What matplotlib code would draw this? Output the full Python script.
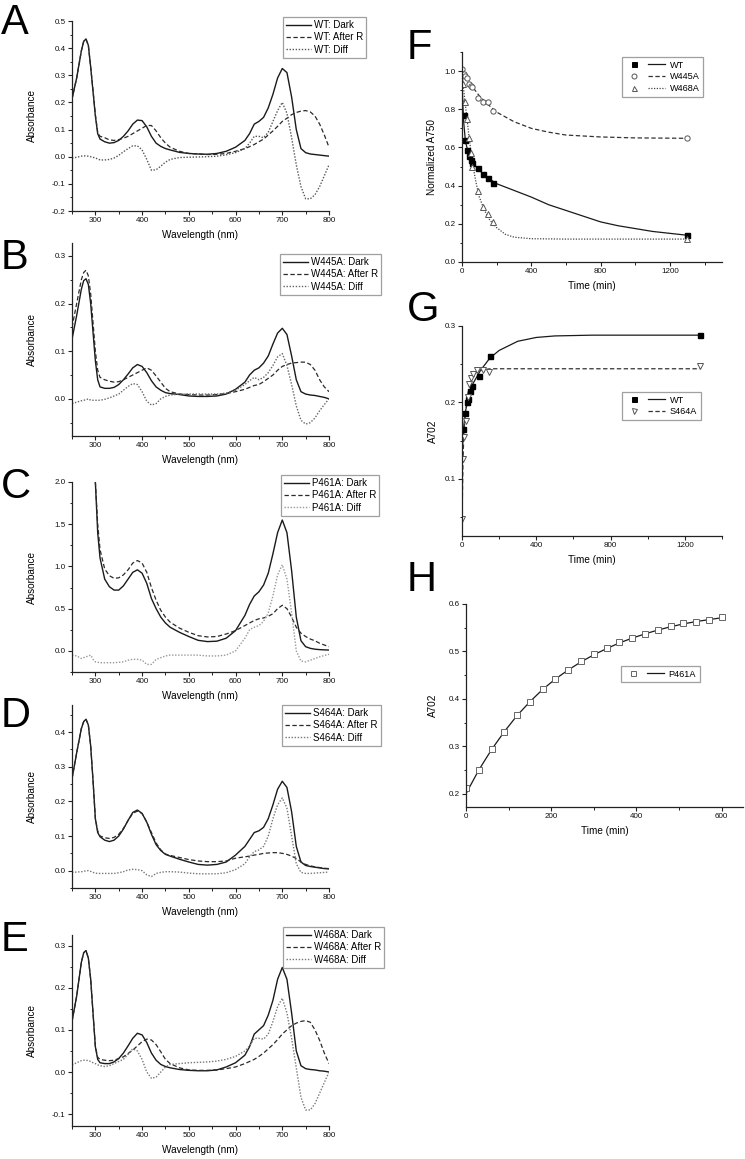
import numpy as np
import matplotlib
matplotlib.use("Agg")
import matplotlib.pyplot as plt
from matplotlib.ticker import MultipleLocator, FormatStrFormatter
from matplotlib.lines import Line2D
from matplotlib.legend_handler import HandlerTuple

plt.rcParams['font.family'] = ['Liberation Sans', 'DejaVu Sans']
plt.rcParams['axes.unicode_minus'] = False

nan = np.nan
# ---------------- spectra data (wavelength grid shared by all spectra) ----------------
wavelength = [250, 260, 270, 275, 280, 285, 290, 295, 300, 305, 310, 320, 330, 340, 350, 360, 370, 380, 390, 400,
              410, 420, 430, 440, 450, 460, 480, 500, 520, 540, 560, 580, 600, 620, 630, 640,
              650, 660, 670, 680, 690, 700, 710, 720, 730, 740, 750, 760, 770, 780, 790, 800]

wt_dark = [0.213, 0.29, 0.39, 0.425, 0.434, 0.41, 0.33, 0.24, 0.15, 0.085, 0.065,
           0.055, 0.05, 0.052, 0.06, 0.075, 0.095, 0.12, 0.135, 0.133, 0.11, 0.075, 0.05, 0.038, 0.03, 0.025, 0.016,
           0.012, 0.01, 0.009, 0.012, 0.02, 0.035, 0.06, 0.085, 0.12, 0.13, 0.145, 0.18, 0.23, 0.29, 0.325, 0.31,
           0.22, 0.10, 0.03, 0.015, 0.01, 0.008, 0.006, 0.004, 0.002]
wt_after = [0.213, 0.29, 0.39, 0.425, 0.432, 0.41, 0.33, 0.245, 0.155, 0.09, 0.075,
            0.07, 0.062, 0.06, 0.063, 0.068, 0.075, 0.085, 0.095, 0.105, 0.115, 0.115, 0.095, 0.07, 0.05, 0.035, 0.02,
            0.012, 0.01, 0.008, 0.009, 0.012, 0.02, 0.03, 0.037, 0.045, 0.055, 0.065, 0.08, 0.095, 0.112, 0.13, 0.142,
            0.155, 0.163, 0.168, 0.17, 0.165, 0.15, 0.12, 0.08, 0.035]
wt_diff = [-0.005, -0.002, 0.002, 0.003, 0.003, 0.002, 0.0, -0.002, -0.005, -0.008, -0.012,
           -0.012, -0.01, -0.005, 0.005, 0.018, 0.03, 0.04, 0.04, 0.025, -0.01, -0.05, -0.048, -0.035, -0.02, -0.01,
           -0.003, -0.002, -0.001, 0.0, 0.002, 0.007, 0.015, 0.03, 0.05, 0.075, 0.075, 0.07, 0.09, 0.13, 0.17, 0.2,
           0.16, 0.07, -0.03, -0.11, -0.155, -0.155, -0.14, -0.11, -0.07, -0.03]

w445_dark = [0.125, 0.175, 0.23, 0.248, 0.252, 0.24, 0.2, 0.14, 0.08, 0.04, 0.025,
             0.022, 0.022, 0.024, 0.03, 0.04, 0.052, 0.065, 0.072, 0.068, 0.055, 0.038, 0.025, 0.018, 0.013, 0.011,
             0.009, 0.006, 0.005, 0.005, 0.006, 0.01, 0.02, 0.035, 0.05, 0.06, 0.065, 0.075, 0.09, 0.115, 0.138, 0.148,
             0.135, 0.09, 0.04, 0.015, 0.01, 0.008, 0.007, 0.005, 0.003, 0.0]
w445_after = [0.15, 0.2, 0.25, 0.265, 0.27, 0.258, 0.22, 0.16, 0.1, 0.06, 0.045,
              0.04, 0.037, 0.035, 0.036, 0.04, 0.045, 0.05, 0.055, 0.06, 0.065, 0.06, 0.048, 0.035, 0.022, 0.015,
              0.01, 0.009, 0.008, 0.008, 0.009, 0.011, 0.015, 0.02, 0.024, 0.028, 0.03, 0.036, 0.043, 0.05, 0.06, 0.068,
              0.072, 0.075, 0.076, 0.077, 0.077, 0.072, 0.06, 0.04, 0.025, 0.015]
w445_diff = [-0.01, -0.007, -0.004, -0.003, -0.002, 0.0, -0.003, -0.003, -0.003, -0.003, -0.003,
             -0.001, 0.002, 0.006, 0.01, 0.018, 0.026, 0.032, 0.03, 0.015, -0.005, -0.013, -0.01, 0.0, 0.005, 0.008,
             0.01, 0.01, 0.01, 0.01, 0.01, 0.012, 0.018, 0.03, 0.038, 0.045, 0.04, 0.045, 0.055, 0.07, 0.088, 0.095,
             0.07, 0.03, -0.015, -0.045, -0.053, -0.05, -0.04, -0.025, -0.012, 0.0]

p461_dark = [nan, nan, nan, nan, nan, nan, nan, nan, 2.0, 1.4, 1.1,
             0.85, 0.76, 0.72, 0.72, 0.77, 0.85, 0.93, 0.96, 0.92, 0.8, 0.62, 0.5, 0.4, 0.33, 0.28,
             0.22, 0.17, 0.125, 0.11, 0.115, 0.15, 0.24, 0.42, 0.55, 0.65, 0.7, 0.78, 0.92, 1.15, 1.4, 1.55,
             1.4, 0.95, 0.4, 0.12, 0.05, 0.03, 0.02, 0.015, 0.012, 0.01]
p461_after = [nan, nan, nan, nan, nan, nan, nan, nan, 2.0, 1.5, 1.2,
              0.97, 0.89, 0.86, 0.865, 0.9, 0.96, 1.04, 1.07, 1.04, 0.93, 0.75, 0.6, 0.48, 0.4, 0.34,
              0.27, 0.22, 0.18, 0.165, 0.17, 0.2, 0.24, 0.3, 0.33, 0.36, 0.38, 0.39, 0.41, 0.44, 0.5, 0.54,
              0.5, 0.4, 0.28, 0.21, 0.17, 0.14, 0.12, 0.09, 0.07, 0.05]
p461_diff = [-0.05, -0.06, -0.09, -0.08, -0.07, -0.06, -0.05, -0.1, -0.13, -0.135, -0.14,
             -0.14, -0.14, -0.14, -0.135, -0.13, -0.11, -0.1, -0.1, -0.11, -0.16, -0.16, -0.1, -0.08, -0.06, -0.05,
             -0.05, -0.05, -0.05, -0.06, -0.06, -0.05, 0.0, 0.15, 0.25, 0.28, 0.3, 0.35, 0.45, 0.65, 0.9, 1.02,
             0.85, 0.45, 0.0, -0.12, -0.13, -0.11, -0.09, -0.07, -0.055, -0.04]

s464_dark = [0.265, 0.34, 0.41, 0.43, 0.437, 0.42, 0.36, 0.26, 0.15, 0.11, 0.098,
             0.088, 0.084, 0.088, 0.1, 0.12, 0.145, 0.168, 0.175, 0.165, 0.14, 0.105, 0.075, 0.058, 0.047, 0.042,
             0.033, 0.025, 0.018, 0.016, 0.018, 0.025, 0.045, 0.07, 0.09, 0.11, 0.115, 0.125, 0.15, 0.19, 0.235, 0.258,
             0.24, 0.17, 0.07, 0.025, 0.015, 0.012, 0.01, 0.008, 0.006, 0.005]
s464_after = [0.265, 0.34, 0.41, 0.43, 0.437, 0.42, 0.36, 0.26, 0.15, 0.115, 0.1,
              0.095, 0.093, 0.096, 0.105, 0.122, 0.145, 0.165, 0.172, 0.165, 0.14, 0.11, 0.08, 0.06, 0.048, 0.044,
              0.038, 0.032, 0.028, 0.026, 0.026, 0.028, 0.036, 0.04, 0.042, 0.045, 0.047, 0.05, 0.051, 0.052, 0.052, 0.05,
              0.047, 0.042, 0.035, 0.025, 0.018, 0.014, 0.011, 0.009, 0.007, 0.006]
s464_diff = [-0.005, -0.004, -0.003, -0.002, 0.0, 0.0, -0.002, -0.005, -0.007, -0.008, -0.008,
             -0.008, -0.008, -0.008, -0.006, -0.003, 0.002, 0.004, 0.003, 0.0, -0.012, -0.017, -0.008, -0.005, -0.003,
             -0.003, -0.004, -0.007, -0.009, -0.009, -0.009, -0.006, 0.003, 0.02, 0.04, 0.055, 0.06, 0.07, 0.1, 0.15,
             0.19, 0.21, 0.18, 0.1, 0.02, -0.005, -0.008, -0.008, -0.007, -0.006, -0.005, -0.004]

w468_dark = [0.12, 0.18, 0.26, 0.283, 0.288, 0.27, 0.22, 0.14, 0.06, 0.03, 0.022,
             0.02, 0.02, 0.024, 0.032, 0.045, 0.062, 0.08, 0.092, 0.088, 0.07, 0.045, 0.028, 0.018, 0.013, 0.01,
             0.006, 0.004, 0.003, 0.003, 0.005, 0.012, 0.022, 0.04, 0.06, 0.09, 0.1, 0.11, 0.135, 0.17, 0.22, 0.248,
             0.22, 0.14, 0.05, 0.015, 0.008, 0.006, 0.005, 0.003, 0.002, 0.0]
w468_after = [0.12, 0.18, 0.26, 0.283, 0.288, 0.27, 0.22, 0.14, 0.06, 0.035, 0.03,
              0.028, 0.027, 0.028, 0.032, 0.036, 0.044, 0.052, 0.062, 0.072, 0.078, 0.076, 0.065, 0.048, 0.03, 0.02,
              0.01, 0.005, 0.004, 0.004, 0.005, 0.008, 0.012, 0.02, 0.025, 0.03, 0.037, 0.045, 0.055, 0.065, 0.077, 0.09,
              0.1, 0.11, 0.116, 0.12, 0.122, 0.118, 0.1, 0.075, 0.045, 0.02]
w468_diff = [0.017, 0.022, 0.027, 0.028, 0.028, 0.027, 0.025, 0.022, 0.02, 0.017, 0.015,
             0.013, 0.015, 0.02, 0.025, 0.03, 0.042, 0.055, 0.05, 0.03, 0.0, -0.015, -0.012, 0.0, 0.012, 0.018,
             0.02, 0.022, 0.023, 0.024, 0.026, 0.03, 0.037, 0.05, 0.062, 0.08, 0.08, 0.078, 0.09, 0.12, 0.155, 0.175,
             0.14, 0.08, 0.01, -0.06, -0.09, -0.09, -0.075, -0.05, -0.025, 0.0]

# ---------------- kinetics data ----------------
f_wt_t = [10, 20, 30, 40, 50, 60, 90, 120, 150, 180, 1300]
f_wt_y = [0.77, 0.64, 0.586, 0.553, 0.535, 0.521, 0.49, 0.46, 0.44, 0.416, 0.142]
f_w445_t = [0, 10, 20, 30, 40, 50, 60, 90, 120, 150, 180, 1300]
f_w445_y = [1.01, 0.985, 0.975, 0.962, 0.93, 0.92, 0.918, 0.86, 0.84, 0.838, 0.79, 0.647]
f_w468_t = [5, 10, 20, 30, 40, 50, 60, 90, 120, 150, 180, 1300]
f_w468_y = [0.93, 0.84, 0.84, 0.75, 0.65, 0.57, 0.50, 0.37, 0.29, 0.25, 0.207, 0.123]
f_wt_fit_t = [0, 5, 10, 20, 40, 60, 100, 150, 200, 300, 400, 500, 600, 700, 800, 900, 1000, 1100, 1200, 1300]
f_wt_fit_y = [0.95, 0.82, 0.73, 0.63, 0.56, 0.52, 0.48, 0.44, 0.41, 0.375, 0.34, 0.30, 0.27, 0.24, 0.21, 0.19, 0.175, 0.16, 0.15, 0.14]
f_w445_fit_t = [0, 50, 100, 150, 200, 300, 400, 500, 600, 800, 1000, 1300]
f_w445_fit_y = [1.0, 0.93, 0.87, 0.825, 0.785, 0.735, 0.70, 0.68, 0.665, 0.655, 0.65, 0.648]
f_w468_fit_t = [0, 10, 20, 40, 60, 80, 100, 130, 160, 200, 250, 300, 400, 600, 1300]
f_w468_fit_y = [1.0, 0.9, 0.82, 0.66, 0.52, 0.42, 0.34, 0.27, 0.22, 0.18, 0.145, 0.13, 0.122, 0.12, 0.12]

g_wt_t = [5, 15, 25, 35, 45, 55, 90, 150, 1280]
g_wt_y = [0.165, 0.186, 0.2, 0.204, 0.215, 0.221, 0.234, 0.261, 0.288]
g_s464_t = [0, 5, 10, 20, 30, 40, 50, 60, 80, 115, 145, 1280]
g_s464_y = [0.047, 0.126, 0.155, 0.176, 0.207, 0.224, 0.232, 0.237, 0.242, 0.243, 0.24, 0.248]
g_wt_fit_t = [0, 10, 20, 40, 60, 100, 150, 200, 300, 400, 500, 700, 1280]
g_wt_fit_y = [0.13, 0.17, 0.19, 0.21, 0.225, 0.242, 0.258, 0.268, 0.28, 0.285, 0.287, 0.288, 0.288]
g_s464_fit_t = [0, 5, 10, 20, 30, 50, 70, 100, 150, 1280]
g_s464_fit_y = [0.04, 0.12, 0.16, 0.19, 0.21, 0.23, 0.238, 0.242, 0.244, 0.244]

h_t = [0, 30, 60, 90, 120, 150, 180, 210, 240, 270, 300, 330, 360, 390, 420, 450, 480, 510, 540, 570, 600]
h_y = [0.213, 0.25, 0.294, 0.331, 0.365, 0.394, 0.42, 0.442, 0.461, 0.479, 0.494, 0.507, 0.519, 0.529,
       0.537, 0.545, 0.553, 0.559, 0.563, 0.567, 0.572]
h_fit_y = [0.200, 0.250, 0.293, 0.331, 0.365, 0.394, 0.420, 0.442, 0.461, 0.478, 0.493, 0.506, 0.518, 0.528,
           0.537, 0.545, 0.552, 0.558, 0.563, 0.567, 0.571]

for _nm, _arr in [('wt_dark', wt_dark), ('wt_after', wt_after), ('wt_diff', wt_diff),
                  ('w445_dark', w445_dark), ('w445_after', w445_after), ('w445_diff', w445_diff),
                  ('p461_dark', p461_dark), ('p461_after', p461_after), ('p461_diff', p461_diff),
                  ('s464_dark', s464_dark), ('s464_after', s464_after), ('s464_diff', s464_diff),
                  ('w468_dark', w468_dark), ('w468_after', w468_after), ('w468_diff', w468_diff)]:
    if len(_arr) != len(wavelength):
        raise ValueError(f'{_nm}: {len(_arr)} vs {len(wavelength)}')

W, H = 745, 1159
fig = plt.figure(figsize=(W / 100, H / 100), dpi=100)
fig.patch.set_facecolor('white')

AX_COLOR = '#222222'
TICK_FS = 5.8
LABEL_FS = 7.2
LEG_FS = 7.0


def px_axes(x0, y0, x1, y1):
    return fig.add_axes([x0 / W, 1 - y1 / H, (x1 - x0) / W, (y1 - y0) / H])


def style_axes(ax):
    for s in ['top', 'right']:
        ax.spines[s].set_visible(False)
    for s in ['left', 'bottom']:
        ax.spines[s].set_color(AX_COLOR)
        ax.spines[s].set_linewidth(0.9)
    ax.tick_params(which='major', direction='out', length=3.0, width=0.8, color=AX_COLOR,
                   labelsize=TICK_FS, pad=1.5, labelcolor='#111111')
    ax.tick_params(which='minor', direction='out', length=1.8, width=0.7, color=AX_COLOR)
    ax.patch.set_alpha(0)


def letter(x, y, s):
    fig.text(x / W, 1 - y / H, s, fontsize=30, ha='left', va='top', color='black')


spectra = [
    ('A', 'WT', wt_dark, wt_after, wt_diff, (21, 211), (-0.2, 0.5), 0.1, 0.05, (283, 17), 3, '#555555'),
    ('B', 'W445A', w445_dark, w445_after, w445_diff, (243, 436), (-0.078, 0.327), 0.1, 0.05, (280, 254), 238, '#666666'),
    ('C', 'P461A', p461_dark, p461_after, p461_diff, (482, 672), (-0.25, 2.0), 0.5, 0.25, (281, 475), 467, '#999999'),
    ('D', 'S464A', s464_dark, s464_after, s464_diff, (705, 888), (-0.05, 0.478), 0.1, 0.05, (282, 705), 696, '#777777'),
    ('E', 'W468A', w468_dark, w468_after, w468_diff, (935, 1126), (-0.128, 0.325), 0.1, 0.05, (283, 927), 920, '#777777'),
]

for lab, name, dark, after, diff, (yt, yb), ylim, maj, mnr, (lx, ly), lety, diffc in spectra:
    ax = px_axes(72, yt, 329, yb)
    style_axes(ax)
    l1, = ax.plot(wavelength, dark, color='#1a1a1a', lw=1.0, ls='-')
    l2, = ax.plot(wavelength, after, color='#2a2a2a', lw=0.9, ls=(0, (3.5, 2)))
    l3, = ax.plot(wavelength, diff, color=diffc, lw=1.0, ls=(0, (1, 1.2)))
    ax.set_xlim(250, 800)
    ax.set_ylim(*ylim)
    ax.xaxis.set_major_locator(MultipleLocator(100))
    ax.xaxis.set_minor_locator(MultipleLocator(50))
    ax.yaxis.set_major_locator(MultipleLocator(maj))
    ax.yaxis.set_minor_locator(MultipleLocator(mnr))
    ax.yaxis.set_major_formatter(FormatStrFormatter('%.1f'))
    ax.set_xlabel('Wavelength (nm)', fontsize=LABEL_FS, labelpad=4)
    ax.set_ylabel('Absorbance', fontsize=LABEL_FS)
    ax.yaxis.set_label_coords(-35.5 / 257, 0.5)
    leg = ax.legend([l1, l2, l3], [f'{name}: Dark', f'{name}: After R', f'{name}: Diff'],
                    loc='upper left', bbox_to_anchor=(lx / W, 1 - ly / H), bbox_transform=fig.transFigure,
                    fontsize=LEG_FS, frameon=True, fancybox=False, handlelength=2.6, handletextpad=0.3,
                    labelspacing=0.25, borderpad=0.3, borderaxespad=0)
    leg.get_frame().set_edgecolor('#888888')
    leg.get_frame().set_linewidth(0.9)
    letter(1, lety, lab)


def kin_handle(marker, mfc, mec, ls, lc):
    m = Line2D([], [], ls='none', marker=marker, ms=3.6, mfc=mfc, mec=mec, mew=0.7)
    l = Line2D([], [], color=lc, lw=0.9, ls=ls)
    return (m, l)


def kin_legend(ax, handles, labels, x, y):
    lg = ax.legend(handles, labels, handler_map={tuple: HandlerTuple(ndivide=None, pad=0.6)},
                   loc='upper left', bbox_to_anchor=(x / W, 1 - y / H), bbox_transform=fig.transFigure,
                   fontsize=6.6, frameon=True, fancybox=False, handlelength=4.3, handletextpad=0.5,
                   labelspacing=0.3, borderpad=0.4, borderaxespad=0)
    lg.get_frame().set_edgecolor('#888888')
    lg.get_frame().set_linewidth(0.9)


# ---------------- F ----------------
axF = px_axes(462, 52, 722, 262)
style_axes(axF)
axF.plot(f_wt_fit_t, f_wt_fit_y, color='#1a1a1a', lw=0.9, ls='-')
axF.plot(f_w445_fit_t, f_w445_fit_y, color='#333333', lw=0.9, ls=(0, (3.5, 2)))
axF.plot(f_w468_fit_t, f_w468_fit_y, color='#444444', lw=0.9, ls=(0, (1, 1.2)))
axF.plot(f_wt_t, f_wt_y, ls='none', marker='s', ms=3.6, mfc='black', mec='black')
axF.plot(f_w445_t, f_w445_y, ls='none', marker='o', ms=3.8, mfc='white', mec='#555555', mew=0.7)
axF.plot(f_w468_t, f_w468_y, ls='none', marker='^', ms=3.8, mfc='white', mec='#555555', mew=0.7)
axF.set_xlim(0, 1500)
axF.set_ylim(0, 1.1)
axF.xaxis.set_major_locator(MultipleLocator(400))
axF.xaxis.set_minor_locator(MultipleLocator(200))
axF.yaxis.set_major_locator(MultipleLocator(0.2))
axF.yaxis.set_minor_locator(MultipleLocator(0.1))
axF.yaxis.set_major_formatter(FormatStrFormatter('%.1f'))
axF.set_xlabel('Time (min)', fontsize=LABEL_FS, labelpad=4)
axF.set_ylabel('Normalized A750', fontsize=LABEL_FS)
axF.yaxis.set_label_coords(-25 / 260, 0.5)
kin_legend(axF, [kin_handle('s', 'black', 'black', '-', '#1a1a1a'),
                 kin_handle('o', 'white', '#555555', (0, (3.5, 2)), '#333333'),
                 kin_handle('^', 'white', '#555555', (0, (1, 1.2)), '#444444')],
           ['WT', 'W445A', 'W468A'], 622, 57)
letter(407, 28, 'F')

# ---------------- G ----------------
axG = px_axes(462, 326, 722, 536)
style_axes(axG)
axG.plot(g_wt_fit_t, g_wt_fit_y, color='#1a1a1a', lw=0.9, ls='-')
axG.plot(g_s464_fit_t, g_s464_fit_y, color='#333333', lw=0.9, ls=(0, (3.5, 2)))
axG.plot(g_wt_t, g_wt_y, ls='none', marker='s', ms=3.6, mfc='black', mec='black')
axG.plot(g_s464_t, g_s464_y, ls='none', marker='v', ms=3.8, mfc='white', mec='#555555', mew=0.7)
axG.set_xlim(0, 1400)
axG.set_ylim(0.025, 0.3)
axG.xaxis.set_major_locator(MultipleLocator(400))
axG.xaxis.set_minor_locator(MultipleLocator(200))
axG.yaxis.set_major_locator(MultipleLocator(0.1))
axG.yaxis.set_minor_locator(MultipleLocator(0.05))
axG.yaxis.set_major_formatter(FormatStrFormatter('%.1f'))
axG.set_xlabel('Time (min)', fontsize=LABEL_FS, labelpad=4)
axG.set_ylabel('A702', fontsize=LABEL_FS)
axG.yaxis.set_label_coords(-24.5 / 260, 0.5)
kin_legend(axG, [kin_handle('s', 'black', 'black', '-', '#1a1a1a'),
                 kin_handle('v', 'white', '#555555', (0, (3.5, 2)), '#333333')],
           ['WT', 'S464A'], 622, 392)
letter(407, 290, 'G')

# ---------------- H ----------------
axH = px_axes(466, 604, 743, 807)
style_axes(axH)
axH.plot(h_t, h_fit_y, color='#1a1a1a', lw=0.9, ls='-')
axH.plot(h_t, h_y, ls='none', marker='s', ms=3.8, mfc='white', mec='#666666', mew=0.7)
axH.set_xlim(0, 650)
axH.set_ylim(0.172, 0.6)
axH.xaxis.set_major_locator(MultipleLocator(200))
axH.xaxis.set_minor_locator(MultipleLocator(100))
axH.yaxis.set_major_locator(MultipleLocator(0.1))
axH.yaxis.set_minor_locator(MultipleLocator(0.05))
axH.yaxis.set_major_formatter(FormatStrFormatter('%.1f'))
axH.set_xlabel('Time (min)', fontsize=LABEL_FS, labelpad=4)
axH.set_ylabel('A702', fontsize=LABEL_FS)
axH.yaxis.set_label_coords(-28.5 / 277, 0.5)
kin_legend(axH, [kin_handle('s', 'white', '#666666', '-', '#1a1a1a')], ['P461A'], 621, 666)
letter(407, 560, 'H')

fig.savefig('out.png', dpi=100, facecolor='white')
